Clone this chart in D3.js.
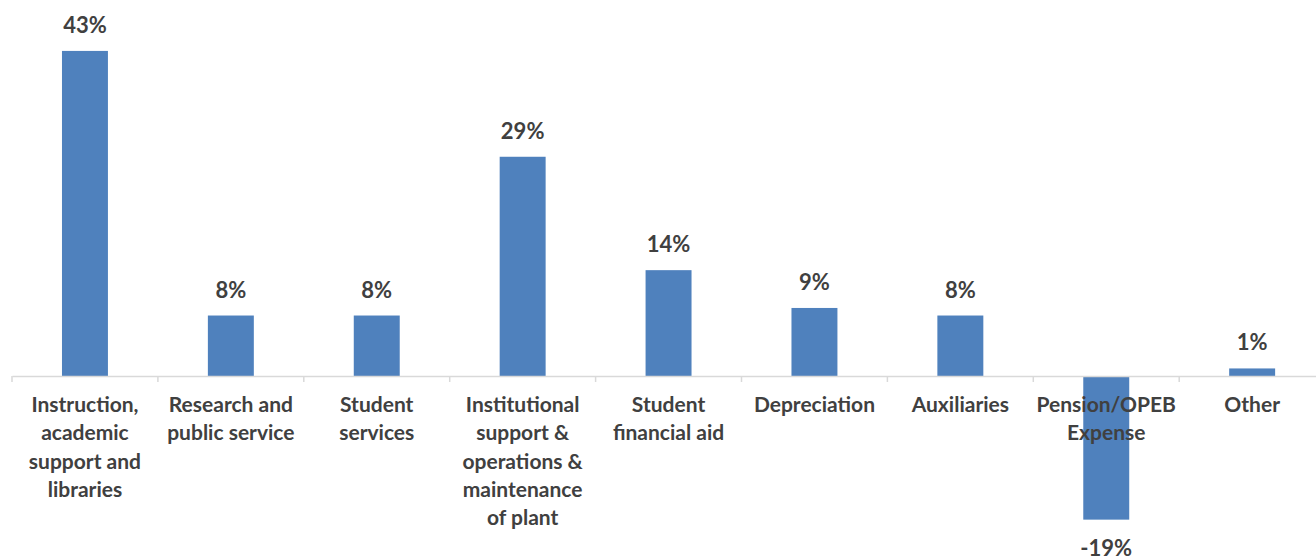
<!DOCTYPE html>
<html>
<head>
<meta charset="utf-8">
<script src="https://cdn.jsdelivr.net/npm/d3@7"></script>
<style>
  html, body { margin: 0; padding: 0; background: #ffffff; }
  svg { display: block; }
  text { font-family: Lato, "Open Sans", "Liberation Sans", sans-serif; font-weight: 700; fill: #404040; }
</style>
</head>
<body>
<svg id="chart" width="1316" height="558"></svg>
<script>
// Expense categories and their share of the total (percent)
const categories = [
  "Instruction, academic support and libraries",
  "Research and public service",
  "Student services",
  "Institutional support & operations & maintenance of plant",
  "Student financial aid",
  "Depreciation",
  "Auxiliaries",
  "Pension/OPEB Expense",
  "Other"
];
const values = [43, 8, 8, 29, 14, 9, 8, -19, 1];

const width = 1316, height = 558;
const svg = d3.select("#chart");

const x = d3.scaleBand()
  .domain(categories)
  .range([12, 12 + 9 * 145.9])
  .paddingInner(0.685)
  .paddingOuter(0.3425);

const y = d3.scaleLinear()
  .domain([-19, 43])
  .range([376 + 19 * 7.56, 376 - 43 * 7.56]);

// Bars
svg.append("g")
  .selectAll("rect")
  .data(values)
  .join("rect")
  .attr("x", (d, i) => x(categories[i]))
  .attr("width", x.bandwidth())
  .attr("y", d => y(Math.max(0, d)))
  .attr("height", d => Math.abs(y(d) - y(0)))
  .attr("fill", "#4F81BD");

// Category axis on the zero line
const axis = svg.append("g")
  .attr("transform", `translate(0,${y(0)})`)
  .call(d3.axisBottom(x).tickSize(0).tickFormat(""));
axis.select(".domain").attr("stroke", "#d9d9d9").attr("stroke-width", 1.5);

// Tick marks at band boundaries
const step = x.step();
const bounds = d3.range(categories.length + 1).map(i => 12 + i * step);
svg.append("g")
  .selectAll("line")
  .data(bounds)
  .join("line")
  .attr("x1", d => d).attr("x2", d => d)
  .attr("y1", y(0)).attr("y2", y(0) + 6)
  .attr("stroke", "#d9d9d9")
  .attr("stroke-width", 1.5);

// Wrapped category labels
function wrap(textSel, maxWidth) {
  textSel.each(function (d) {
    const t = d3.select(this);
    const words = d.split(/\s+/);
    let line = [];
    const cx = t.attr("x");
    let tspan = t.append("tspan").attr("x", cx).attr("dy", 0);
    for (const w of words) {
      line.push(w);
      tspan.text(line.join(" "));
      if (tspan.node().getComputedTextLength() > maxWidth && line.length > 1) {
        line.pop();
        tspan.text(line.join(" "));
        line = [w];
        tspan = t.append("tspan").attr("x", cx).attr("dy", 28.3).text(w);
      }
    }
  });
}

svg.append("g")
  .selectAll("text")
  .data(categories)
  .join("text")
  .attr("x", d => x(d) + x.bandwidth() / 2)
  .attr("y", 412)
  .attr("text-anchor", "middle")
  .style("font-size", "21px")
  .call(wrap, 138);

// Value labels
svg.append("g")
  .selectAll("text")
  .data(values)
  .join("text")
  .attr("x", (d, i) => x(categories[i]) + x.bandwidth() / 2)
  .attr("y", d => d >= 0 ? y(d) - 18 : y(d) + 36)
  .attr("text-anchor", "middle")
  .style("font-size", "22px")
  .text(d => d + "%");
</script>
</body>
</html>
